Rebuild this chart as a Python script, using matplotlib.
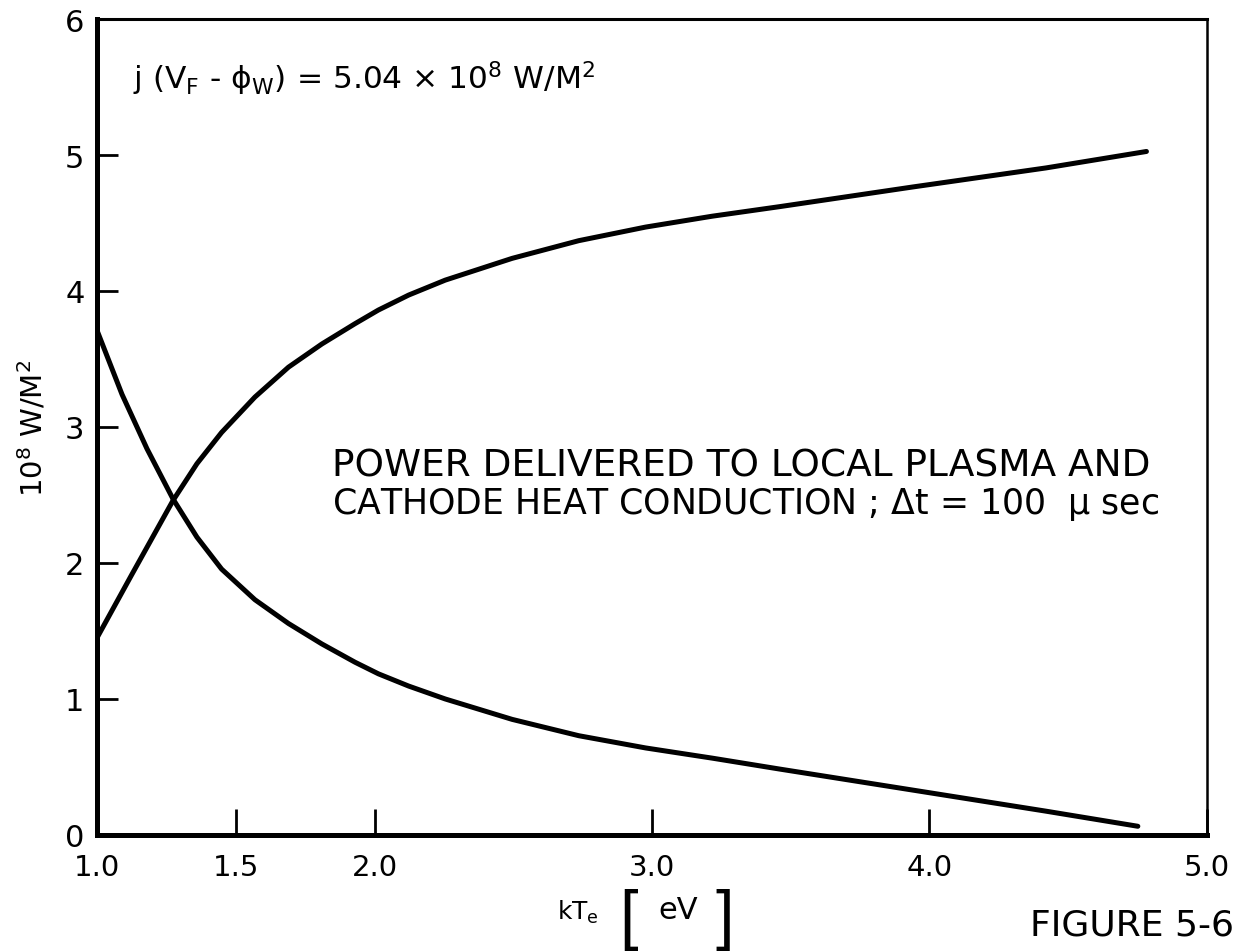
import matplotlib
matplotlib.use("Agg")
import matplotlib.pyplot as plt

# Electron temperature kT_e [eV] and power densities [10^8 W/m^2]
kte_plasma = [1.0, 1.124, 1.274, 1.36, 1.449, 1.569, 1.69, 1.81, 1.93, 2.014,
              2.123, 2.255, 2.496, 2.736, 2.977, 3.217, 3.459, 3.94, 4.42, 4.782]
power_plasma = [1.45, 1.91, 2.46, 2.73, 2.96, 3.22, 3.44, 3.61, 3.76, 3.86,
                3.97, 4.08, 4.24, 4.37, 4.47, 4.55, 4.62, 4.765, 4.905, 5.026]

kte_cathode = [1.0, 1.09, 1.18, 1.274, 1.36, 1.449, 1.569, 1.69, 1.81, 1.93,
               2.014, 2.123, 2.255, 2.496, 2.736, 2.977, 3.217, 3.459, 3.94,
               4.42, 4.751]
power_cathode = [3.71, 3.24, 2.84, 2.47, 2.19, 1.955, 1.73, 1.555, 1.405, 1.27,
                 1.185, 1.095, 1.0, 0.85, 0.73, 0.64, 0.565, 0.485, 0.33,
                 0.175, 0.064]

x_ticks = [1.0, 1.5, 2.0, 3.0, 4.0, 5.0]
x_tick_labels = ["1.0", "1.5", "2.0", "3.0", "4.0", "5.0"]
y_ticks = [0, 1, 2, 3, 4, 5, 6]
y_tick_labels = ["0", "1", "2", "3", "4", "5", "6"]

plt.rcParams["font.family"] = ["DejaVu Sans"]
plt.rcParams["mathtext.default"] = "regular"

fig = plt.figure(figsize=(12.52, 9.53), dpi=100)
ax = fig.add_axes([0.0775, 0.1228, 0.8865, 0.8562])

for xs, ys in ((kte_plasma, power_plasma), (kte_cathode, power_cathode)):
    ax.plot(xs, ys, color="black", lw=3.6, solid_capstyle="round",
            solid_joinstyle="round")

ax.set_xlim(1.0, 5.0)
ax.set_ylim(0, 6)

ax.set_xticks(x_ticks)
ax.set_xticklabels(x_tick_labels)
ax.set_yticks(y_ticks)
ax.set_yticklabels(y_tick_labels)
ax.tick_params(axis="x", direction="in", length=19, width=2, pad=13,
               labelsize=21)
ax.tick_params(axis="y", direction="in", length=15, width=2, pad=9,
               labelsize=22)

for side, w in (("left", 3.6), ("bottom", 3.6), ("top", 2.2), ("right", 1.8)):
    ax.spines[side].set_linewidth(w)
    ax.spines[side].set_color("black")

ax.set_ylabel(r"10$^{8}$ W/M$^{2}$", fontsize=21, labelpad=12)

# Header relation
ax.text(0.032, 0.928,
        r"j (V$_{\mathrm{F}}$ - $\phi_{\mathrm{W}}$) = 5.04 $\times$ 10$^{8}$ W/M$^{2}$",
        transform=ax.transAxes, fontsize=22.5, ha="left", va="center")

# Curve description (two lines)
ax.text(0.212, 0.4400, "POWER DELIVERED TO LOCAL PLASMA AND",
        transform=ax.transAxes, fontsize=27, ha="left", va="baseline")
ax.text(0.212, 0.3946, r"CATHODE HEAT CONDUCTION ; $\Delta$t = 100  $\mu$ sec",
        transform=ax.transAxes, fontsize=25, ha="left", va="baseline")

# x-axis label: kT_e [eV] with tall brackets
fig.text(0.462, 0.043, r"kT$_{\mathrm{e}}$", fontsize=18, ha="center", va="center")
fig.text(0.502, 0.035, "[", fontsize=48, ha="center", va="center",
         family="Liberation Sans")
fig.text(0.542, 0.045, "eV", fontsize=22, ha="center", va="center")
fig.text(0.579, 0.035, "]", fontsize=48, ha="center", va="center",
         family="Liberation Sans")

fig.text(0.823, 0.029, "FIGURE 5-6", fontsize=26, ha="left", va="center")

fig.savefig("out.png", dpi=100, facecolor="white")
